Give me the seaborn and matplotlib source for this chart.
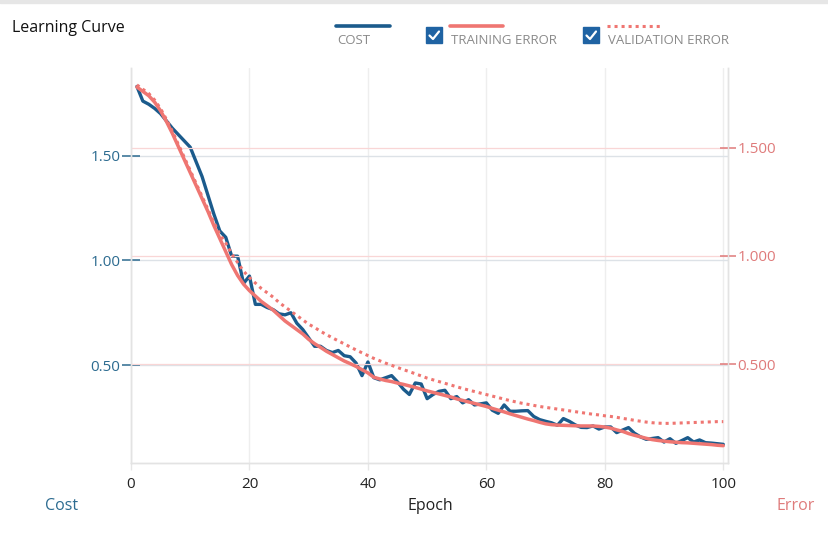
import matplotlib
matplotlib.use("Agg")
import matplotlib.pyplot as plt
from matplotlib.lines import Line2D
from matplotlib.patches import Rectangle
import seaborn as sns
import pandas as pd
import numpy as np

# values
epochs = list(range(1, 101))

cost = [
    1.83, 1.76, 1.745, 1.725, 1.70, 1.665, 1.63, 1.60, 1.57, 1.54,
    1.47, 1.40, 1.31, 1.22, 1.14, 1.11, 1.02, 1.02, 0.89, 0.925,
    0.79, 0.79, 0.775, 0.765, 0.745, 0.74, 0.75, 0.70, 0.67, 0.63,
    0.59, 0.59, 0.57, 0.56, 0.57, 0.545, 0.54, 0.51, 0.45, 0.515,
    0.44, 0.43, 0.44, 0.45, 0.42, 0.385, 0.36, 0.415, 0.41, 0.34,
    0.36, 0.375, 0.38, 0.34, 0.35, 0.32, 0.335, 0.31, 0.315, 0.32,
    0.285, 0.27, 0.31, 0.28, 0.28, 0.282, 0.283, 0.255, 0.24, 0.232,
    0.225, 0.213, 0.245, 0.232, 0.215, 0.203, 0.202, 0.21, 0.195, 0.205,
    0.205, 0.178, 0.19, 0.202, 0.175, 0.158, 0.146, 0.15, 0.154, 0.133,
    0.149, 0.127, 0.14, 0.154, 0.133, 0.143, 0.13, 0.128, 0.125, 0.122,
]

training_error = [
    1.78, 1.76, 1.74, 1.71, 1.67, 1.62, 1.565, 1.505, 1.445, 1.385,
    1.325, 1.265, 1.205, 1.14, 1.08, 1.02, 0.96, 0.91, 0.87, 0.84,
    0.815, 0.79, 0.77, 0.75, 0.725, 0.70, 0.68, 0.66, 0.64, 0.615,
    0.595, 0.578, 0.56, 0.545, 0.53, 0.515, 0.503, 0.49, 0.475, 0.46,
    0.44, 0.432, 0.425, 0.42, 0.413, 0.407, 0.40, 0.393, 0.385, 0.377,
    0.37, 0.363, 0.356, 0.349, 0.34, 0.333, 0.326, 0.319, 0.312, 0.305,
    0.296, 0.288, 0.28, 0.271, 0.263, 0.255, 0.247, 0.24, 0.232, 0.225,
    0.221, 0.219, 0.218, 0.217, 0.216, 0.215, 0.215, 0.215, 0.213, 0.21,
    0.205, 0.197, 0.19, 0.18, 0.172, 0.165, 0.158, 0.152, 0.148, 0.145,
    0.142, 0.14, 0.138, 0.137, 0.135, 0.133, 0.131, 0.129, 0.126, 0.124,
]

validation_error = [
    1.79, 1.77, 1.75, 1.72, 1.68, 1.63, 1.575, 1.515, 1.455, 1.395,
    1.335, 1.275, 1.215, 1.155, 1.10, 1.06, 1.01, 0.97, 0.93, 0.90,
    0.875, 0.85, 0.83, 0.81, 0.785, 0.765, 0.745, 0.725, 0.705, 0.685,
    0.67, 0.652, 0.637, 0.622, 0.608, 0.594, 0.58, 0.566, 0.553, 0.54,
    0.527, 0.516, 0.505, 0.495, 0.485, 0.475, 0.466, 0.456, 0.446, 0.436,
    0.428, 0.42, 0.412, 0.404, 0.396, 0.388, 0.381, 0.374, 0.367, 0.36,
    0.353, 0.346, 0.339, 0.332, 0.326, 0.32, 0.315, 0.31, 0.305, 0.301,
    0.297, 0.293, 0.289, 0.285, 0.281, 0.277, 0.273, 0.269, 0.266, 0.262,
    0.259, 0.255, 0.25, 0.246, 0.241, 0.237, 0.233, 0.23, 0.228, 0.227,
    0.227, 0.228, 0.229, 0.23, 0.231, 0.232, 0.233, 0.234, 0.235, 0.235,
]

x_ticks = [0, 20, 40, 60, 80, 100]
cost_ticks = [0.5, 1.0, 1.5]
cost_tick_labels = ["0.50", "1.00", "1.50"]
error_ticks = [0.5, 1.0, 1.5]
error_tick_labels = ["0.500", "1.000", "1.500"]

BLUE = "#1b5b8c"
BLUE_TXT = "#2c6b90"
RED = "#ef7672"
RED_TXT = "#df7b7b"

df = pd.DataFrame({"epoch": epochs, "cost": cost,
                   "training": training_error, "validation": validation_error})

sns.set_theme(style="white")
plt.rcParams["font.family"] = ["Open Sans", "DejaVu Sans"]

W, H = 829, 535
fig = plt.figure(figsize=(W / 100, H / 100), dpi=100)

def fx(px):
    return px / W

def fy(py):
    return 1 - py / H

ax = fig.add_axes([fx(131), fy(463), fx(728) - fx(131), fy(68) - fy(463)])
ax2 = ax.twinx()

# cost on the left axis
sns.lineplot(data=df, x="epoch", y="cost", ax=ax, color=BLUE, linewidth=2.4, zorder=3)
ax.set_xlim(0, 100.8)
ax.set_ylim(0.033, 1.918)
ax.set_xticks(x_ticks)
ax.set_yticks(cost_ticks)
ax.set_yticklabels(cost_tick_labels)
ax.set_xlabel("")
ax.set_ylabel("")
ax.grid(axis="y", color="#dde2e7", linewidth=1)
ax.grid(axis="x", color="#eeeeee", linewidth=1)
ax.tick_params(axis="y", direction="inout", length=12.5, width=1.1, color=BLUE_TXT,
               labelcolor=BLUE_TXT, labelsize=11, pad=1.5, left=True)
ax.tick_params(axis="x", direction="out", length=5, width=1, color="#e6e6e6",
               labelcolor="#222222", labelsize=11, pad=5, bottom=True)

# errors on the right axis
sns.lineplot(data=df, x="epoch", y="training", ax=ax2, color=RED, linewidth=2.5, zorder=3)
sns.lineplot(data=df, x="epoch", y="validation", ax=ax2, color=RED, linewidth=2.2,
             linestyle=(0, (1, 1.3)), zorder=3)
ax2.set_ylim(0.044, 1.868)
ax2.set_yticks(error_ticks)
ax2.set_yticklabels(error_tick_labels)
ax2.set_ylabel("")
ax2.grid(axis="y", color="#f9d6d6", linewidth=0.9)
ax2.tick_params(axis="y", direction="inout", length=12, width=1.1, color=RED_TXT,
                labelcolor=RED_TXT, labelsize=11, pad=1, right=True)

for a in (ax, ax2):
    a.spines["top"].set_visible(False)
    for s in ("left", "right", "bottom"):
        a.spines[s].set_color("#e3e3e3")
        a.spines[s].set_linewidth(1)

# axis titles and chart title
fig.text(fx(62), fy(506), "Cost", color=BLUE_TXT, fontsize=11.5, ha="center", va="center")
fig.text(fx(430), fy(506), "Epoch", color="#222222", fontsize=11.5, ha="center", va="center")
fig.text(fx(796), fy(506), "Error", color=RED_TXT, fontsize=11.5, ha="center", va="center")
fig.text(fx(12), fy(28), "Learning Curve", color="#111111", fontsize=11.5, ha="left", va="center")

# thin frame line at top
fig.patches.append(Rectangle((0, fy(3)), 1, fy(0) - fy(3), transform=fig.transFigure,
                             color="#e6e6e6", zorder=0))

# legend drawn by hand
def legend_line(x0, x1, y, **kw):
    fig.add_artist(Line2D([fx(x0), fx(x1)], [fy(y), fy(y)], transform=fig.transFigure, **kw))

def checkbox(x0, y0, size):
    fig.patches.append(Rectangle((fx(x0), fy(y0 + size)), fx(size), size / H,
                                 transform=fig.transFigure, color="#1f63a3", zorder=5))
    fig.add_artist(Line2D([fx(x0 + 3.5), fx(x0 + 7), fx(x0 + 13)],
                          [fy(y0 + 8.5), fy(y0 + 12), fy(y0 + 4.5)],
                          transform=fig.transFigure, color="white", linewidth=1.6, zorder=6))

legend_line(336, 390, 26, color=BLUE, linewidth=2.6)
fig.text(fx(337), fy(40), "COST", color="#8a8a8a", fontsize=9.5, ha="left", va="center")

checkbox(426, 27, 16)
legend_line(450, 503, 26, color=RED, linewidth=2.6)
fig.text(fx(451), fy(40), "TRAINING ERROR", color="#8a8a8a", fontsize=9.5, ha="left", va="center")

checkbox(583, 27, 16)
legend_line(607, 661, 26, color=RED, linewidth=2.2, linestyle=(0, (1, 1.3)))
fig.text(fx(608), fy(40), "VALIDATION ERROR", color="#8a8a8a", fontsize=9.5, ha="left", va="center")

fig.savefig("out.png", dpi=100, facecolor="white")
